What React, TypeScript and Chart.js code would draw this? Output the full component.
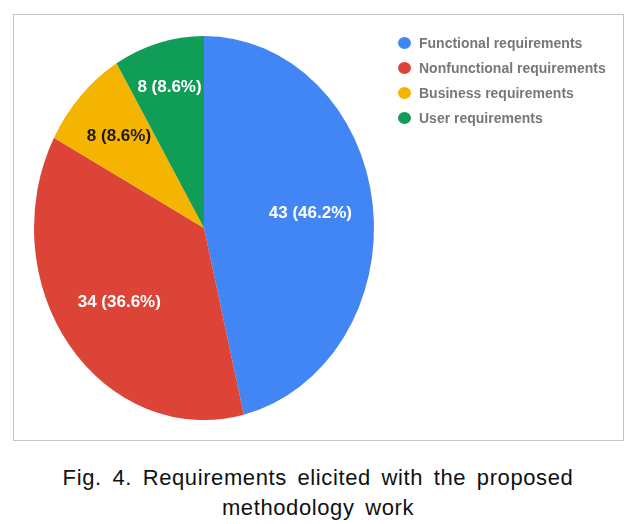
import React, { useEffect, useRef } from "react";
import { Chart, registerables } from "chart.js";

Chart.register(...registerables);

const categories = [
  "Functional requirements",
  "Nonfunctional requirements",
  "Business requirements",
  "User requirements",
];
const counts = [43, 34, 8, 8];
const colors = ["#4285F4", "#DB4437", "#F4B400", "#0F9D58"];
const labelColors = ["#ffffff", "#ffffff", "#1a1a1a", "#ffffff"];
const labelRadius = [0.63, 0.63, 0.69, 0.76];
const captionLines = [
  "Fig. 4. Requirements elicited with the proposed",
  "methodology work",
];

const VSCALE = 192 / 170;

const ellipsePlugin = {
  id: "ellipse",
  beforeDatasetsDraw(chart: any) {
    const arc = chart.getDatasetMeta(0).data[0];
    if (!arc) return;
    const { x, y } = arc.getProps(["x", "y"], true);
    const ctx = chart.ctx;
    ctx.save();
    ctx.translate(x, y);
    ctx.scale(1, VSCALE);
    ctx.translate(-x, -y);
  },
  afterDatasetsDraw(chart: any) {
    const ctx = chart.ctx;
    ctx.restore();
    const data = chart.data.datasets[0].data as number[];
    const total = data.reduce((a, b) => a + b, 0);
    chart.getDatasetMeta(0).data.forEach((arc: any, i: number) => {
      const p = arc.getProps(["x", "y", "startAngle", "endAngle", "outerRadius"], true);
      const mid = (p.startAngle + p.endAngle) / 2;
      const r = p.outerRadius * labelRadius[i];
      const lx = p.x + Math.cos(mid) * r;
      const ly = p.y + Math.sin(mid) * r * VSCALE;
      const txt = `${data[i]} (${((data[i] / total) * 100).toFixed(1)}%)`;
      ctx.save();
      ctx.font = "bold 17px 'Liberation Sans', Arial, sans-serif";
      ctx.fillStyle = labelColors[i];
      ctx.textAlign = "center";
      ctx.textBaseline = "middle";
      ctx.fillText(txt, lx, ly);
      ctx.restore();
    });
  },
};

function PieChart() {
  const ref = useRef<HTMLCanvasElement>(null);
  useEffect(() => {
    if (!ref.current) return;
    const chart = new Chart(ref.current, {
      type: "pie",
      data: {
        labels: categories,
        datasets: [
          {
            data: counts,
            backgroundColor: colors,
            borderWidth: 0,
          },
        ],
      },
      options: {
        animation: false,
        responsive: false,
        maintainAspectRatio: false,
        layout: { padding: { left: 20, right: 249, top: 43, bottom: 42 } },
        plugins: {
          legend: { display: false },
          tooltip: { enabled: false },
        },
      },
      plugins: [ellipsePlugin],
    });
    return () => chart.destroy();
  }, []);
  return <canvas ref={ref} width={609} height={425} style={{ display: "block" }} />;
}

export default function App() {
  return (
    <div style={{ position: "absolute", left: 0, top: 0, width: 644, height: 524, background: "#fff" }}>
      <div
        style={{
          position: "absolute",
          left: 13,
          top: 14,
          width: 611,
          height: 427,
          border: "1px solid #c4c4c4",
          boxSizing: "border-box",
        }}
      >
        <PieChart />
        {categories.map((c, i) => (
          <div
            key={c}
            style={{
              position: "absolute",
              left: 384,
              top: 19 + i * 25,
              height: 18,
              display: "flex",
              alignItems: "center",
              whiteSpace: "nowrap",
              font: "bold 14px 'Liberation Sans', Arial, sans-serif",
              color: "#777777",
            }}
          >
            <span
              style={{
                display: "inline-block",
                width: 13,
                height: 12,
                borderRadius: "50%",
                background: colors[i],
                marginRight: 8,
              }}
            />
            {c}
          </div>
        ))}
      </div>
      <div
        style={{
          position: "absolute",
          left: 0,
          top: 463,
          width: 636,
          textAlign: "center",
          font: "22px 'Liberation Sans', Arial, sans-serif",
          letterSpacing: "0.6px",
          wordSpacing: "4px",
          lineHeight: "30px",
          color: "#111",
        }}
      >
        {captionLines.map((l) => (
          <div key={l}>{l}</div>
        ))}
      </div>
    </div>
  );
}
